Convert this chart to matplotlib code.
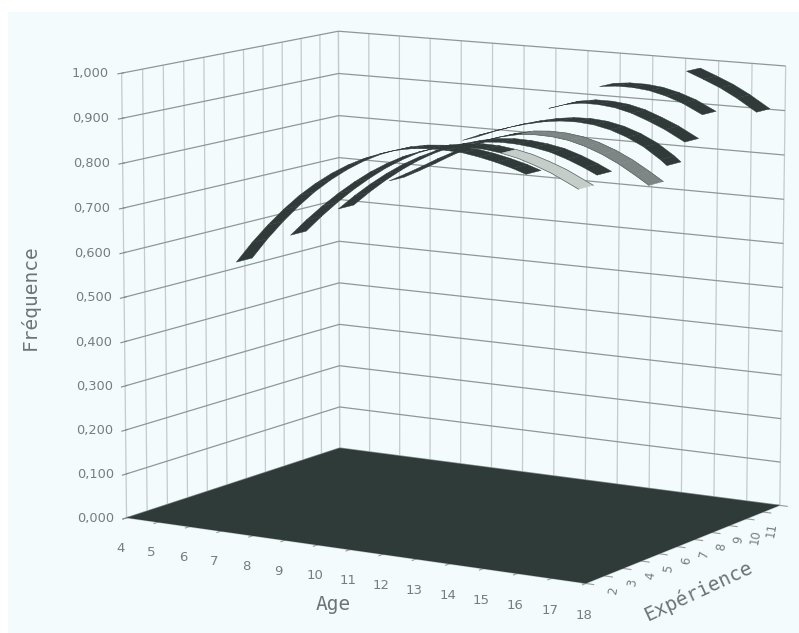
import matplotlib

matplotlib.use("Agg")
import matplotlib.pyplot as plt
from matplotlib.patches import Rectangle
from matplotlib.ticker import FuncFormatter
import numpy as np

AGE_TICKS = list(range(4, 19))
EXP_TICKS = list(range(1, 13))
EXP_LABELS = ["", "2", "3", "4", "5", "6", "7", "8", "9", "10", "11", ""]
FREQ_TICKS = [0.0, 0.1, 0.2, 0.3, 0.4, 0.5, 0.6, 0.7, 0.8, 0.9, 1.0]

# one ribbon per experience level
AGES_4 = [5.7, 6.2, 6.7, 7.2, 7.7, 8.2, 8.7, 9.2, 9.7, 10.2, 10.7, 11.2, 11.7, 12.2, 12.7, 13.2, 13.7, 14.2, 14.6]
FREQ_4 = [0.558, 0.606, 0.649, 0.688, 0.723, 0.753, 0.779, 0.801, 0.819, 0.833, 0.844, 0.851, 0.854, 0.854, 0.852,
          0.846, 0.838, 0.828, 0.818]
AGES_5 = [6.8, 7.3, 7.8, 8.3, 8.8, 9.3, 9.8, 10.3, 10.8, 11.3, 11.8, 12.3, 12.8, 13.3, 13.8, 14.3, 14.8, 15.3, 15.6]
FREQ_5 = [0.616, 0.654, 0.689, 0.721, 0.750, 0.776, 0.798, 0.817, 0.831, 0.842, 0.848, 0.851, 0.850, 0.845, 0.837,
          0.825, 0.811, 0.793, 0.782]
AGES_6 = [7.7, 8.2, 8.7, 9.2, 9.7, 10.2, 10.7, 11.2, 11.7, 12.2, 12.7, 13.2, 13.7, 14.2, 14.7, 15.2, 15.6]
FREQ_6 = [0.671, 0.704, 0.734, 0.761, 0.785, 0.805, 0.822, 0.835, 0.845, 0.852, 0.855, 0.854, 0.850, 0.843, 0.831,
          0.816, 0.802]
AGES_7 = [8.7, 9.2, 9.7, 10.2, 10.7, 11.2, 11.7, 12.2, 12.7, 13.2, 13.7, 14.2, 14.7, 15.2, 15.7, 16.2, 16.6]
FREQ_7 = [0.731, 0.750, 0.770, 0.791, 0.810, 0.828, 0.843, 0.854, 0.862, 0.865, 0.864, 0.859, 0.849, 0.835, 0.817,
          0.795, 0.776]
AGES_8 = [10.4, 10.9, 11.4, 11.9, 12.4, 12.9, 13.4, 13.9, 14.4, 14.9, 15.4, 15.9, 16.4, 16.6]
FREQ_8 = [0.824, 0.839, 0.852, 0.864, 0.874, 0.882, 0.887, 0.888, 0.885, 0.877, 0.864, 0.846, 0.821, 0.809]
AGES_9 = [12.5, 13.0, 13.5, 14.0, 14.5, 15.0, 15.5, 16.0, 16.6]
FREQ_9 = [0.900, 0.912, 0.918, 0.918, 0.914, 0.905, 0.891, 0.875, 0.851]
AGES_10 = [13.5, 14.0, 14.5, 15.0, 15.5, 16.0, 16.6]
FREQ_10 = [0.946, 0.950, 0.950, 0.946, 0.937, 0.924, 0.902]
AGES_11 = [15.6, 16.1, 16.6, 17.1, 17.7]
FREQ_11 = [0.984, 0.969, 0.953, 0.933, 0.905]

DARK = "#2f3a39"
# back to front; ribbons 5 and 7 turn lighter from the given age on
RIBBONS = [
    (11, AGES_11, FREQ_11, DARK, None),
    (10, AGES_10, FREQ_10, DARK, None),
    (9, AGES_9, FREQ_9, DARK, None),
    (8, AGES_8, FREQ_8, DARK, None),
    (7, AGES_7, FREQ_7, "#7d8685", 12.7),
    (6, AGES_6, FREQ_6, DARK, None),
    (5, AGES_5, FREQ_5, "#c5cdc9", 13.3),
    (4, AGES_4, FREQ_4, DARK, None),
]

Y_LOW = -0.1
Y_HIGH = 0.7
BG = "#f3fbfd"
TEXT = "#777d7d"
TITLE = "#6e7474"


def fmt_freq(v, _pos):
    return f"{v:.3f}".replace(".", ",")


def strip(ax, e, ages, freq, col, z):
    xx = np.vstack([ages, ages])
    yy = np.vstack([np.full_like(ages, e + Y_LOW), np.full_like(ages, e + Y_HIGH)])
    zz = np.vstack([freq, freq])
    s = ax.plot_surface(xx, yy, zz, color=col, shade=False, rstride=1, cstride=1,
                        edgecolor=col, linewidth=0.3, zorder=z)
    s.set_clip_on(False)


fig = plt.figure(figsize=(7.99, 6.33), dpi=100, facecolor="white")
fig.add_artist(Rectangle((8 / 799, 0), 791 / 799, 621 / 633, transform=fig.transFigure,
                         facecolor=BG, edgecolor="none", zorder=-5))

ax = fig.add_subplot(projection="3d", computed_zorder=False)
ax.patch.set_visible(False)
# camera fitted to the corners of the box in the picture
ax.set_position((0.0593, 0.0246, 1, 1))
ax.view_init(10.1737, -58.609, -0.0734)
ax.set_proj_type("persp", focal_length=1.4145)
ax.set_box_aspect((1.1817, 0.8789, 1), zoom=1.2259)
ax.set_xlim(4, 18, view_margin=0)
ax.set_ylim(1, 12, view_margin=0)
ax.set_zlim(0, 1, view_margin=0)

ax.set_xticks(AGE_TICKS)
ax.set_yticks(EXP_TICKS)
ax.set_yticklabels(EXP_LABELS, rotation=80, fontsize=8.5, color=TEXT)
ax.set_zticks(FREQ_TICKS)
ax.zaxis.set_major_formatter(FuncFormatter(fmt_freq))
ax.tick_params(axis="x", labelsize=9.5, labelcolor=TEXT, pad=3, color="#999999")
ax.tick_params(axis="y", labelsize=8.5, labelcolor=TEXT, pad=-3.5, color="#999999")
ax.tick_params(axis="z", labelsize=9.3, labelcolor=TEXT, pad=3, color="#888888")
ax.zaxis.set_ticks_position("lower")
for t in ax.get_zticklabels():
    t.set_va("center")
for t in ax.get_xticklabels():
    t.set_ha("left")

for axis, col in ((ax.xaxis, "#c3cbcc"), (ax.yaxis, "#c3cbcc"), (ax.zaxis, "#8f9797")):
    axis.set_pane_color((1, 1, 1, 0))
    axis.pane.set_edgecolor((1, 1, 1, 0))
    axis.line.set_color((1, 1, 1, 0))
    axis._axinfo["grid"].update(color=col, linewidth=0.9)

fx, fy = np.meshgrid([AGE_TICKS[0], AGE_TICKS[-1]], [EXP_TICKS[0], EXP_TICKS[-1]])
floor = ax.plot_surface(fx, fy, np.zeros_like(fx, dtype=float), color="#2f3b39", shade=False,
                        linewidth=0, antialiased=True, zorder=2)
floor.set_clip_on(False)

z = 3
for e, ages, freq, col, split in RIBBONS:
    ages = np.array(ages)
    freq = np.array(freq)
    if split is None:
        strip(ax, e, ages, freq, col, z)
    else:
        k = np.searchsorted(ages, split)
        strip(ax, e, ages[: k + 1], freq[: k + 1], DARK, z)
        strip(ax, e, ages[k:], freq[k:], col, z)
        for off in (Y_LOW, Y_HIGH):
            ax.plot(ages[k:], np.full_like(ages[k:], e + off), freq[k:], color="#5a6462", lw=0.5,
                    zorder=z + 0.5, clip_on=False)
    z += 1

fig.text(30 / 799, 1 - 297 / 633, "Fréquence", rotation=90, ha="center", va="center",
         family="DejaVu Sans Mono", fontsize=14, color=TITLE)
fig.text(333 / 799, 1 - 605 / 633, "Age", ha="center", va="center",
         family="DejaVu Sans Mono", fontsize=14, color=TITLE)
fig.text(698 / 799, 1 - 591 / 633, "Expérience", rotation=25, ha="center", va="center",
         family="DejaVu Sans Mono", fontsize=14, color=TITLE)

fig.savefig("out.png", dpi=100)
